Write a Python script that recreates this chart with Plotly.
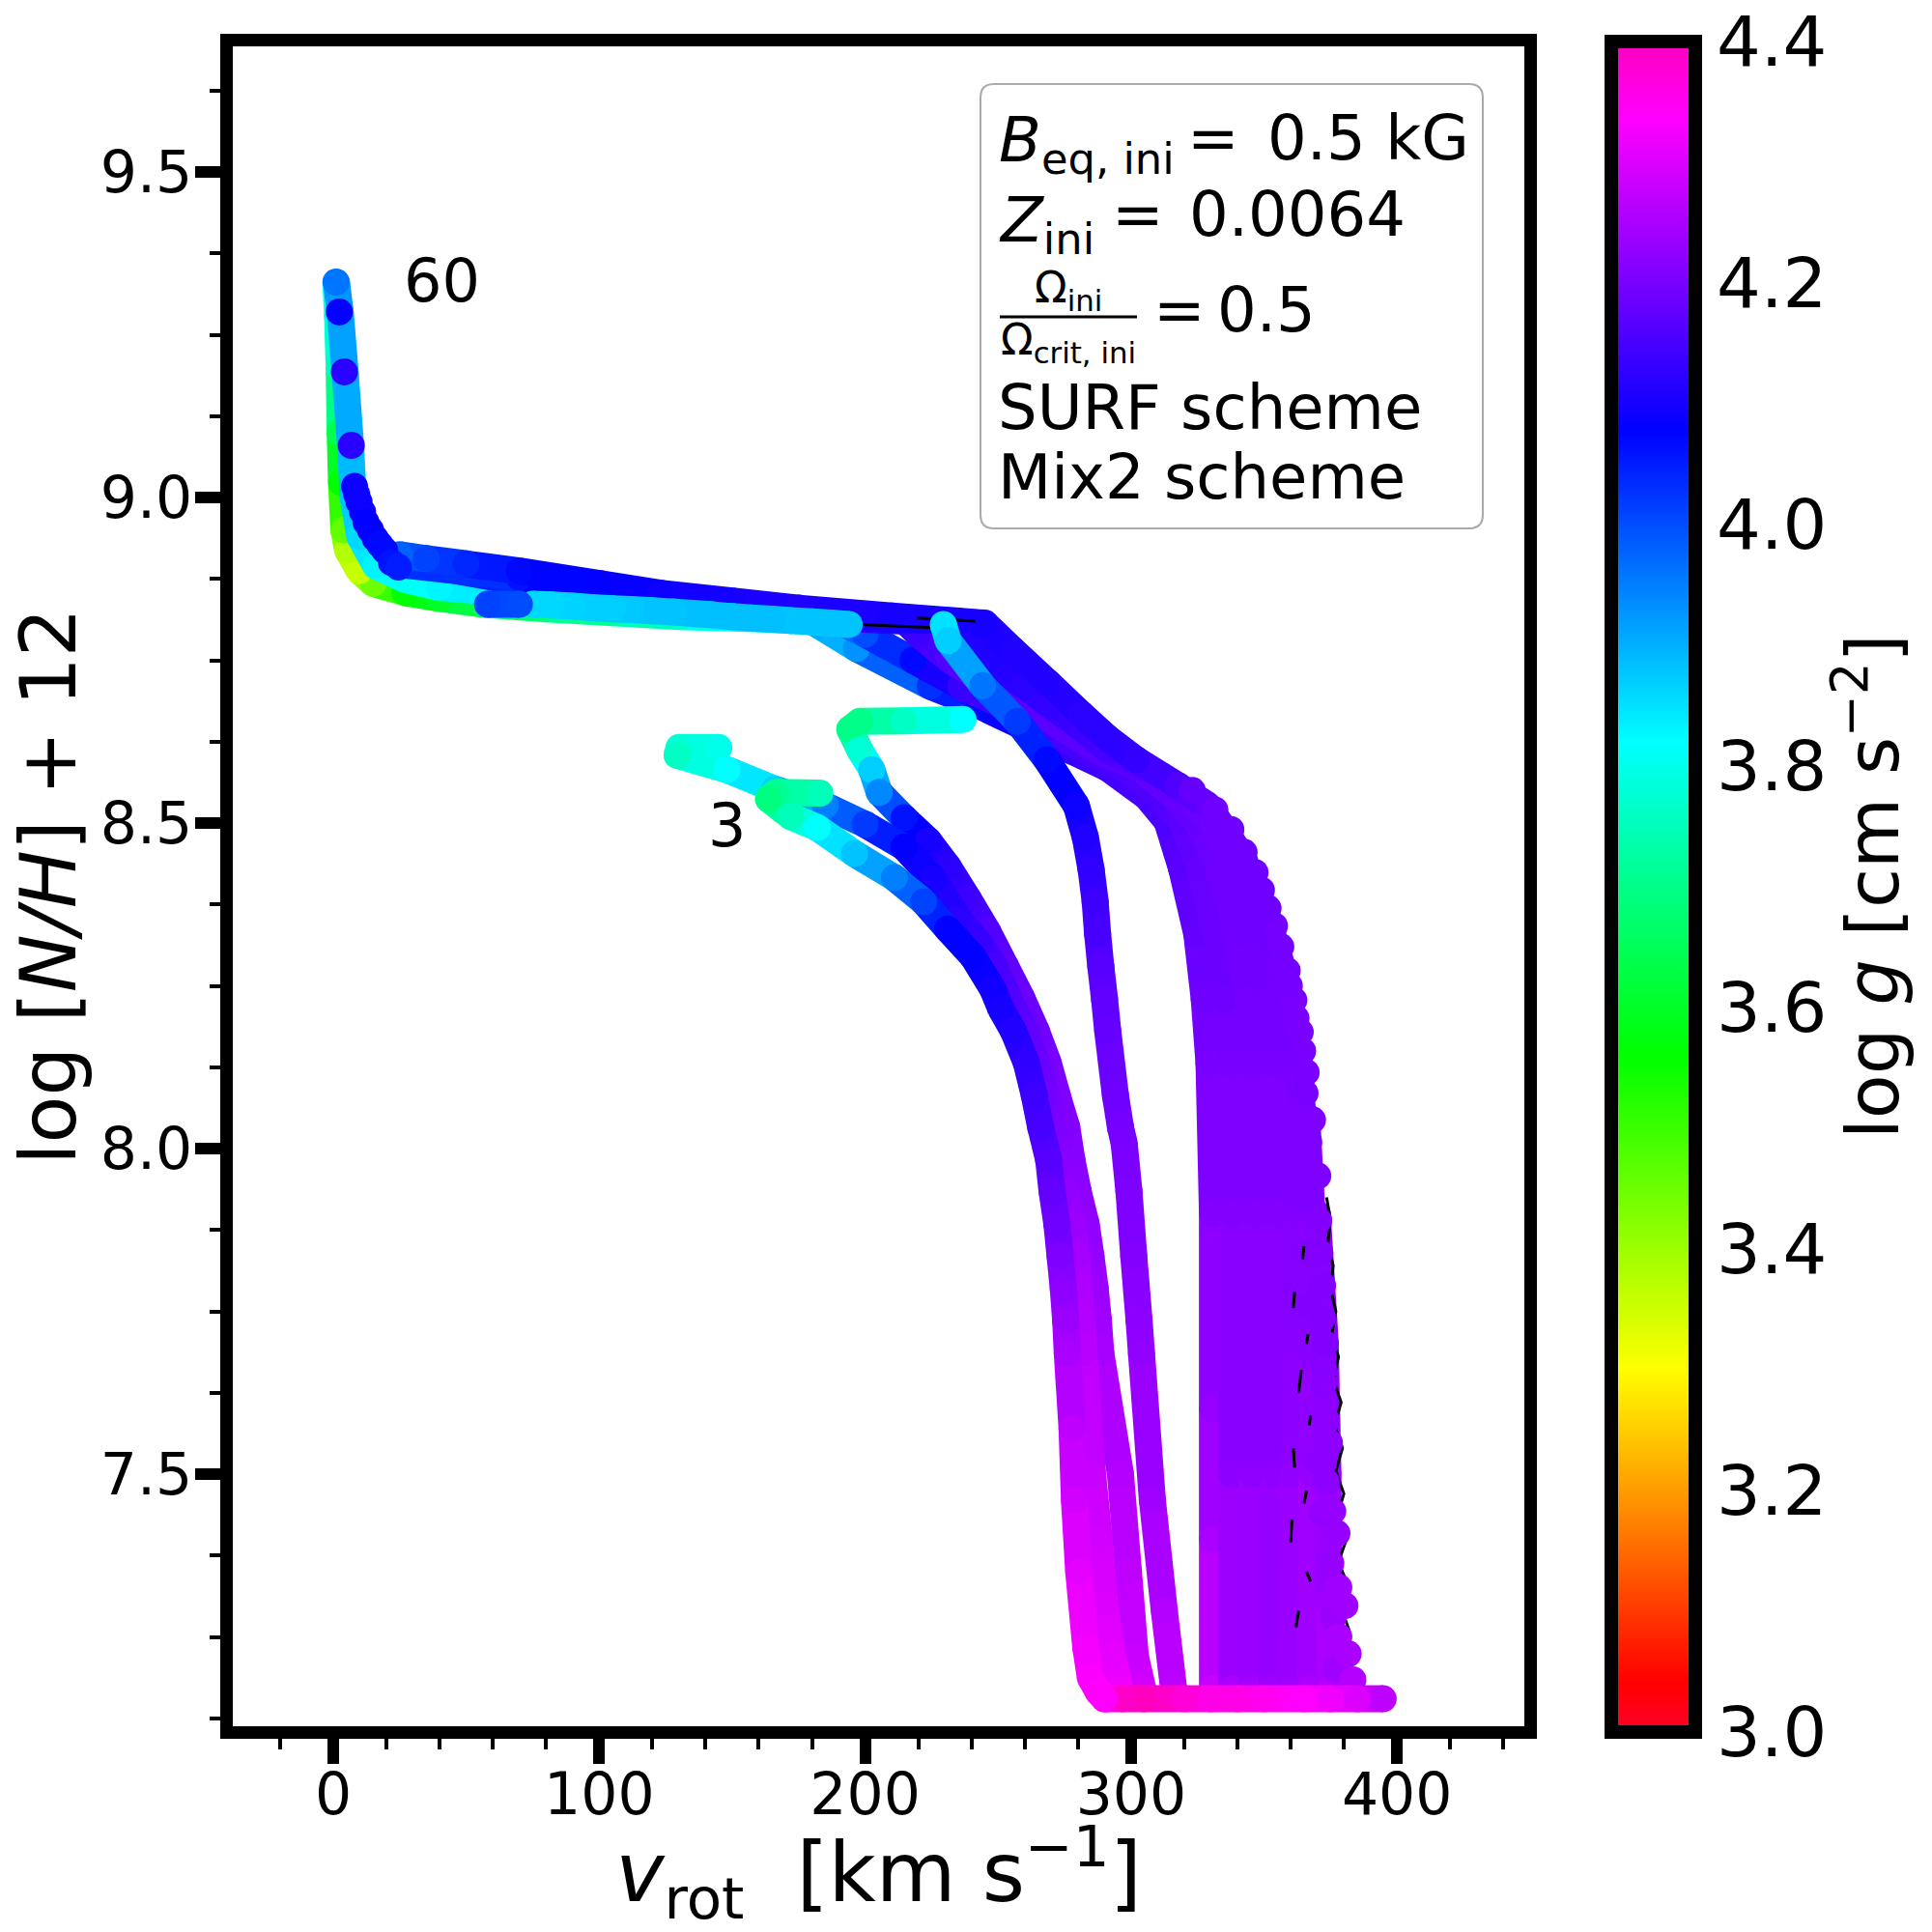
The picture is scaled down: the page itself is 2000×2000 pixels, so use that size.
import plotly.graph_objects as go

# ---- data: rotation velocity, log[N/H]+12, log g ----
v_t1 = [183,166.4,163.6,172,182,196,211,222,231,240.5,248,251,255.7,260.6,263.6,266,269,270.3,272.1,273.3,274.5,275.4,276,277.8,278.7,280.3,283,284.7,287.7,290]
n_t1 = [8.546,8.547,8.537,8.51,8.493,8.453,8.416,8.379,8.337,8.295,8.245,8.215,8.181,8.132,8.082,8.033,7.983,7.934,7.884,7.835,7.785,7.736,7.686,7.57,7.46,7.35,7.233,7.187,7.165,7.155]
g_t1 = [3.75,3.71,3.69,3.75,3.82,3.88,3.95,4.01,4.08,4.08,4.095,4.10,4.11,4.125,4.14,4.15,4.165,4.18,4.19,4.205,4.22,4.235,4.25,4.27,4.29,4.31,4.325,4.33,4.34,4.34]

v_t2 = [145,130,129.3,148,166,185,200,214.6,225.7,235,243,248.5,254,260,264.5,268,271,273.5,275.5,278,279.5,280.5,281.5,282.3,285.5,288,290,293,296]
n_t2 = [8.616,8.616,8.604,8.582,8.552,8.527,8.498,8.463,8.414,8.354,8.315,8.28,8.231,8.181,8.132,8.082,8.033,7.983,7.934,7.884,7.835,7.785,7.736,7.686,7.5,7.4,7.3,7.22,7.17]
g_t2 = [3.80,3.78,3.76,3.82,3.87,3.95,4.02,4.08,4.10,4.12,4.135,4.15,4.16,4.175,4.185,4.195,4.205,4.215,4.225,4.235,4.245,4.255,4.26,4.265,4.28,4.29,4.30,4.31,4.32]

v_t3 = [236.8,214.6,198,194.2,198,202.5,205.3,214.6,223.8,231.2,238.7,246,252.8,258.9,264.3,268.8,272.2,275.8,277.7,280.1,283.1,284.9,286.5,287.7,288.6,296,299,301.6,304.4]
n_t3 = [8.659,8.657,8.656,8.644,8.612,8.582,8.547,8.508,8.473,8.433,8.384,8.334,8.28,8.231,8.181,8.132,8.082,8.033,7.983,7.934,7.884,7.835,7.785,7.736,7.686,7.5,7.35,7.22,7.17]
g_t3 = [3.82,3.76,3.70,3.70,3.78,3.87,3.94,4.06,4.10,4.12,4.14,4.16,4.175,4.185,4.19,4.2,4.205,4.21,4.215,4.22,4.225,4.23,4.235,4.24,4.245,4.26,4.27,4.28,4.29]

v_t4 = [229.4,231.2,244.2,257.2,268.3,279.4,282.8,285,286.5,287.4,288.6,290,291.2,294.1,296,297.4,299.2,301,303,303.9,308,312.5,316]
n_t4 = [8.805,8.78,8.711,8.656,8.597,8.527,8.478,8.428,8.379,8.33,8.28,8.23,8.181,8.082,8.033,8.008,7.934,7.835,7.736,7.686,7.46,7.29,7.17]
g_t4 = [3.85,3.87,3.96,4.02,4.07,4.09,4.11,4.125,4.14,4.15,4.165,4.175,4.18,4.19,4.195,4.2,4.205,4.21,4.22,4.225,4.24,4.26,4.27]

v_b1 = [330.6,330.6,330.6,330.6,329.3,327.5,324.7,319,313.5,306,291,278,261.5,243,224.5,196.7,180,157.5,130,105.3,80,56.7,40,27,15,9.7,5.4,4,3.1,2.6,2.2,1.6,1]
n_b1 = [7.17,7.4,7.6,7.9,8.131,8.23,8.33,8.43,8.503,8.54,8.585,8.61,8.644,8.68,8.71,8.768,8.81,8.814,8.817,8.823,8.829,8.836,8.845,8.854,8.868,8.888,8.919,8.95,9.023,9.10,9.2,9.28,9.33]
g_b1 = [4.28,4.25,4.23,4.21,4.20,4.19,4.18,4.17,4.155,4.15,4.145,4.13,4.11,4.07,4.03,3.93,3.87,3.82,3.77,3.72,3.69,3.65,3.60,3.56,3.45,3.36,3.38,3.46,3.56,3.64,3.75,3.80,3.82]

v_b2 = [338,338,338.5,338,335.5,332,326,319,311,297,283,268,252,236,218,200,190,165,123,75,40,27,16,10,7.5,6.5,4.5,2.6,1.2]
n_b2 = [7.17,7.5,7.9,8.13,8.23,8.33,8.43,8.503,8.54,8.585,8.61,8.644,8.68,8.71,8.75,8.79,8.81,8.818,8.83,8.85,8.862,8.874,8.895,8.94,9.0,9.08,9.19,9.285,9.33]
g_b2 = [4.25,4.22,4.21,4.2,4.19,4.185,4.18,4.17,4.16,4.155,4.15,4.145,4.14,4.135,4.07,4.0,3.95,3.88,3.87,3.85,3.83,3.81,3.83,3.86,3.88,3.90,3.91,3.92,3.93]

v_b3 = [345.5,345.5,346,346,344,340,333,325,316.5,303,288,275,261,248,232,220,215,175,123,70,40,25]
n_b3 = [7.17,7.5,7.9,8.13,8.23,8.33,8.43,8.503,8.54,8.585,8.61,8.644,8.68,8.71,8.75,8.79,8.81,8.818,8.833,8.87,8.892,8.90]
g_b3 = [4.245,4.22,4.21,4.2,4.195,4.19,4.19,4.18,4.18,4.17,4.17,4.17,4.17,4.17,4.16,4.14,4.12,4.11,4.09,4.06,4.03,4.0]

v_b4 = [353,354,355,355,352,347.5,339,330.5,321.5,306,292,282,270,260,247,236,235,200,175,123,70,25]
n_b4 = [7.17,7.5,7.9,8.13,8.23,8.33,8.43,8.503,8.54,8.585,8.61,8.644,8.68,8.71,8.75,8.79,8.81,8.815,8.822,8.843,8.877,8.897]
g_b4 = [4.24,4.22,4.21,4.2,4.195,4.19,4.19,4.19,4.18,4.17,4.15,4.14,4.13,4.12,4.11,4.11,4.10,4.10,4.10,4.09,4.06,4.0]

v_b5 = [360,361,362,363,364.5,363.3,359.2,356.7,354.3,350.5,347,342.5,336.3,328.9,317.8,302,291,281.6,268.7,255.7,245,210,175,150,123,100,70,50,35,25]
n_b5 = [7.17,7.5,7.7,7.9,8.05,8.131,8.23,8.28,8.315,8.359,8.394,8.443,8.483,8.527,8.557,8.597,8.631,8.666,8.716,8.765,8.807,8.818,8.83,8.841,8.853,8.868,8.887,8.898,8.906,8.912]
g_b5 = [4.24,4.225,4.215,4.21,4.205,4.20,4.195,4.195,4.19,4.19,4.19,4.19,4.19,4.18,4.16,4.13,4.12,4.12,4.11,4.11,4.10,4.10,4.11,4.10,4.09,4.08,4.07,4.04,4.01,3.98]

v_b6 = [375,374.5,374,373,370]
n_b6 = [7.17,7.3,7.5,7.7,7.9]
g_b6 = [4.26,4.24,4.225,4.215,4.21]

v_b7 = [367,368,368.5,368,366]
n_b7 = [7.17,7.5,7.7,7.9,8.05]
g_b7 = [4.25,4.23,4.22,4.21,4.205]

v_zig = [382,379,381.5,378,381,377.5,380,377,379.5,376.5,379,376,378,375.5,377,375,376,374,375,373.5]
n_zig = [7.26,7.295,7.33,7.365,7.4,7.435,7.47,7.505,7.54,7.575,7.61,7.645,7.68,7.715,7.75,7.785,7.82,7.855,7.89,7.925]

v_stub = [362,363,None,367.5,366,None,360,360.5,None,365,366,None,361.5,361,None,367,367.5,None,363,364,None,366,366.5,None,361,361.5,None,364.5,365]
n_stub = [7.265,7.29,None,7.335,7.35,None,7.395,7.43,None,7.455,7.475,None,7.51,7.54,None,7.575,7.59,None,7.625,7.66,None,7.70,7.715,None,7.755,7.78,None,7.83,7.85]

v_edge2 = [377,376,374,372,370,369,368,367,366,365]
n_edge2 = [7.2,7.28,7.36,7.44,7.52,7.6,7.68,7.76,7.84,7.92]
g_edge2 = [4.24,4.235,4.23,4.225,4.22,4.22,4.215,4.21,4.21,4.205]

v_edge = [383.4,381.6,378.1,380.4,378.1,375.1,377.4,375.8,373.4,372.3,374.6,373.4,372.3,372.3,373,372,372,371,370.5,370.2,366.8,368.2,365.4,365.8,364.5,363.6,362,361.2,359.5,358.7,356.3,353.9,351.5,349,346.6,342.5,337.5,331.5,323]
n_edge = [7.184,7.224,7.25,7.298,7.326,7.363,7.409,7.443,7.488,7.517,7.548,7.582,7.639,7.661,7.70,7.74,7.79,7.84,7.89,7.958,8.01,8.044,8.085,8.117,8.15,8.179,8.2,8.228,8.25,8.273,8.31,8.342,8.369,8.397,8.424,8.455,8.49,8.52,8.55]
g_edge = [4.26,4.25,4.25,4.24,4.24,4.23,4.23,4.23,4.22,4.22,4.22,4.22,4.215,4.215,4.21,4.21,4.21,4.21,4.21,4.205,4.205,4.205,4.20,4.20,4.20,4.20,4.20,4.20,4.195,4.195,4.195,4.195,4.19,4.19,4.19,4.19,4.19,4.19,4.18]

v_blk1 = [197.9,225.7]
n_blk1 = [8.805,8.80]
v_blk2 = [219.6,241.4]
n_blk2 = [8.815,8.81]

v_row = [394.8,385,375,365,350,340,330,320,305,297,290]
n_row = [7.155,7.155,7.155,7.155,7.155,7.155,7.155,7.155,7.155,7.155,7.155]
g_row = [4.27,4.30,4.32,4.336,4.35,4.36,4.36,4.375,4.4,4.39,4.34]

v_pl = [194,187,180,172,165,157,150,142,135,128,120,112,105,97,90,82,75]
n_pl = [8.805,8.807,8.809,8.811,8.813,8.815,8.817,8.82,8.822,8.824,8.826,8.828,8.829,8.831,8.833,8.835,8.836]
g_pl = [3.88,3.88,3.88,3.88,3.885,3.885,3.885,3.885,3.885,3.88,3.88,3.875,3.87,3.87,3.865,3.86,3.86]

v_end = [70,58]
n_end = [8.836,8.836]
g_end = [4.0,4.01]

v_tail = [24.5,21.9,19.3,17.5,15.8,14,12.3,11,9.7,8.8,8,6.8,4.16,2.25,1.03]
n_tail = [8.893,8.90,8.919,8.928,8.937,8.95,8.962,8.978,8.993,9.005,9.017,9.08,9.193,9.285,9.331]
g_tail = [4.05,4.06,4.07,4.07,4.08,4.08,4.08,4.09,4.09,4.09,4.09,4.12,4.12,4.08,3.96]

x_ticks = [0,100,200,300,400]
y_ticks = [7.5,8.0,8.5,9.0,9.5]
y_tick_labels = ["7.5","8.0","8.5","9.0","9.5"]
cb_ticks = [3.0,3.2,3.4,3.6,3.8,4.0,4.2,4.4]
cb_labels = ["3.0","3.2","3.4","3.6","3.8","4.0","4.2","4.4"]

# ---- styling ----
FONT = "DejaVu Sans"
STOPS = [(0,(255,0,41)),(0.03,(255,0,0)),(0.215,(255,255,0)),(0.4,(0,255,0)),
         (0.586,(0,255,255)),(0.77,(0,0,255)),(0.954,(255,0,255)),(1,(255,0,191))]
COLORSCALE = [[s, "rgb(%d,%d,%d)" % c] for s, c in STOPS]
GMIN, GMAX = 3.0, 4.4
WIDTH_PX = 28

def gcolor(g):
    f = min(1, max(0, (g - GMIN) / (GMAX - GMIN)))
    for (a, ca), (b, cb) in zip(STOPS, STOPS[1:]):
        if f <= b:
            t = (f - a) / (b - a)
            return "rgb(%d,%d,%d)" % tuple(round(p + (q - p) * t) for p, q in zip(ca, cb))
    return "rgb(255,0,191)"

fig = go.Figure()

def markers(v, n, g, size=WIDTH_PX):
    fig.add_trace(go.Scatter(x=v, y=n, mode="markers", showlegend=False, hoverinfo="skip",
                             marker=dict(size=size, color=g, coloraxis="coloraxis", line=dict(width=0))))

def track(v, n, g):
    for i in range(len(v) - 1):
        fig.add_trace(go.Scatter(x=v[i:i+2], y=n[i:i+2], mode="lines", showlegend=False, hoverinfo="skip",
                                 line=dict(color=gcolor((g[i] + g[i+1]) / 2), width=WIDTH_PX)))
    markers(v, n, g)

def black(v, n, w):
    fig.add_trace(go.Scatter(x=v, y=n, mode="lines", showlegend=False, hoverinfo="skip",
                             line=dict(color="black", width=w)))

track(v_b1, n_b1, g_b1)
track(v_b2, n_b2, g_b2)
track(v_b3, n_b3, g_b3)
track(v_b4, n_b4, g_b4)
track(v_b5, n_b5, g_b5)
track(v_b7, n_b7, g_b7)
track(v_b6, n_b6, g_b6)
black(v_zig, n_zig, 3)
markers(v_edge2, n_edge2, g_edge2)
black(v_stub, n_stub, 3)
markers(v_edge, n_edge, g_edge)
black(v_blk1, n_blk1, 3)
black(v_blk2, n_blk2, 3)
track(v_pl, n_pl, g_pl)
track(v_end, n_end, g_end)
markers(v_tail[::-1], n_tail[::-1], g_tail[::-1])
track(v_t4, n_t4, g_t4)
track(v_t3, n_t3, g_t3)
track(v_t2, n_t2, g_t2)
track(v_t1, n_t1, g_t1)
track(v_row, n_row, g_row)

# plot-area inner edges in page pixels
L, R, T, B = 241, 1578, 48, 1787
XR = [(L - 345) / 2.753, (R - 345) / 2.753]
YR = [9 - (B - 515) / 674, 9 - (T - 515) / 674]

def px(x): return (x - L) / (R - L)
def py(y): return (B - y) / (B - T)

def label(x, y, text, size, anchor="left"):
    fig.add_annotation(xref="paper", yref="paper", x=px(x), y=py(y), text=text, showarrow=False,
                       xanchor=anchor, yanchor="middle", font=dict(family=FONT, size=size, color="black"))

# text box
r = 14
x0, x1, y0, y1 = px(1015), px(1535), py(547), py(87)
rx, ry = r / (R - L), r / (B - T)
fig.add_shape(type="path", xref="paper", yref="paper", fillcolor="white", line=dict(color="#aaaaaa", width=2),
              path=f"M {x0+rx} {y0} L {x1-rx} {y0} Q {x1} {y0} {x1} {y0+ry} L {x1} {y1-ry} Q {x1} {y1} {x1-rx} {y1} "
                   f"L {x0+rx} {y1} Q {x0} {y1} {x0} {y1-ry} L {x0} {y0+ry} Q {x0} {y0} {x0+rx} {y0} Z",
              layer="above")
label(1032, 150, "<i>B</i><sub>eq, ini</sub>", 64)
label(1227, 143, "=", 64)
label(1310, 143, "0.5 kG", 64)
label(1032, 232, "<i>Z</i><sub>ini</sub>", 64)
label(1149, 222, "=", 64)
label(1229, 222, "0.0064", 64)
label(1106, 300, "Ω<sub>ini</sub>", 44, "center")
label(1106, 354, "Ω<sub>crit, ini</sub>", 44, "center")
fig.add_shape(type="line", xref="paper", yref="paper", x0=px(1035), x1=px(1177), y0=py(328), y1=py(328),
              line=dict(color="black", width=3), layer="above")
label(1192, 321, "=", 64)
label(1258, 321, "0.5", 64)
label(1031, 422, "SURF scheme", 64)
label(1031, 494, "Mix2 scheme", 64)

fig.add_annotation(x=40.7, y=9.333, text="60", showarrow=False, font=dict(family=FONT, size=62, color="black"))
fig.add_annotation(x=148, y=8.496, text="3", showarrow=False, font=dict(family=FONT, size=62, color="black"))

# colour-bar caption, placed beside the bar
fig.add_annotation(xref="paper", yref="paper", x=px(1933), y=py(918), textangle=-90, showarrow=False,
                   xanchor="center", yanchor="middle",
                   text="log <i>g</i> [cm s<sup>−2</sup>]", font=dict(family=FONT, size=75, color="black"))

axis = dict(showgrid=False, zeroline=False, showline=True, mirror=True, linecolor="black", linewidth=12.5,
            ticks="outside", tickcolor="black", tickwidth=12, ticklen=26,
            tickfont=dict(family=FONT, size=60, color="black"))
fig.update_layout(
    width=2000, height=2000, autosize=False, plot_bgcolor="white", paper_bgcolor="white",
    margin=dict(l=L, r=2000 - R, t=T, b=2000 - B, pad=0, autoexpand=False),
    showlegend=False,
    xaxis=dict(axis, range=XR, tickvals=x_ticks, ticktext=[str(t) for t in x_ticks], ticklabelstandoff=-20,
               minor=dict(dtick=20, tick0=0, ticks="outside", ticklen=11, tickwidth=4, tickcolor="black", showgrid=False),
               title=dict(text="<i>v</i><sub>rot</sub>  [km s<sup>−1</sup>]", standoff=20,
                          font=dict(family=FONT, size=85, color="black"))),
    yaxis=dict(axis, range=YR, tickvals=y_ticks, ticktext=y_tick_labels, ticklabelstandoff=-9,
               minor=dict(dtick=0.125, tick0=7.0, ticks="outside", ticklen=11, tickwidth=4, tickcolor="black", showgrid=False),
               title=dict(text="log [<i>N/H</i>] + 12", standoff=4,
                          font=dict(family=FONT, size=80, color="black"))),
    coloraxis=dict(cmin=GMIN, cmax=GMAX, colorscale=COLORSCALE,
                   colorbar=dict(x=px(1668), xanchor="left",
                                 y=py(1793), yanchor="bottom", len=(1793-43)/(B-T), lenmode="fraction",
                                 thickness=87, thicknessmode="pixels", outlinewidth=14, outlinecolor="black",
                                 xpad=0, ypad=0, ticks="", tickvals=cb_ticks, ticktext=cb_labels,
                                 tickfont=dict(family=FONT, size=72, color="black"))),
)

fig.write_html("out.html", config={"displayModeBar": False}, post_script="document.body.style.margin='0';")
